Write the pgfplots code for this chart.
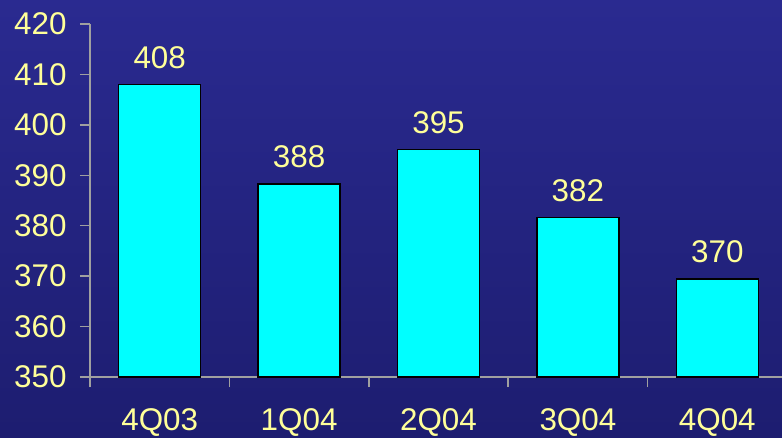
\documentclass[border=0pt]{standalone}
\usepackage{pgfplots}
\pgfplotsset{compat=1.18}
\usepackage{fontspec}
\setmainfont{Liberation Sans}
\definecolor{bgtop}{HTML}{2A2A90}
\definecolor{bgbot}{HTML}{1D1D70}
\definecolor{txt}{HTML}{FFFF99}
\definecolor{axgray}{HTML}{A0A0A0}
\definecolor{barcyan}{HTML}{00FFFF}
\begin{document}
\begin{tikzpicture}
\shade[top color=bgtop, bottom color=bgbot] (0,0) rectangle (782bp,438bp);
\begin{scope}
\clip (0,0) rectangle (782bp,438bp);
\begin{axis}[
  at={(90bp,61bp)}, anchor=south west,
  scale only axis, width=697bp, height=353bp,
  xmin=-0.5, xmax=4.5, ymin=350, ymax=420,
  axis x line*=bottom, axis y line*=left,
  axis line style={axgray, line width=1.5bp, -},
  xtick={0,...,4},
  xticklabels={4Q03,1Q04,2Q04,3Q04,4Q04},
  minor xtick={-0.5,0.5,1.5,2.5,3.5,4.5},
  ytick={350,360,...,420},
  tick align=outside,
  major tick length=10bp, minor tick length=10bp,
  x tick style={draw=none},
  minor x tick style={draw=axgray, line width=1.5bp},
  y tick style={draw=axgray, line width=1.5bp},
  font=\fontsize{31.5}{36}\selectfont,
  tick label style={text=txt, font=\fontsize{31.5}{36}\selectfont},
  xticklabel style={yshift=-18bp},
  yticklabel style={xshift=-10bp},
  /pgf/number format/assume math mode=true,
  ybar, bar width=82bp,
  point meta=explicit symbolic,
  nodes near coords,
  every node near coord/.append style={text=txt, font=\fontsize{31.5}{36}\selectfont, yshift=12bp},
  clip=false,
]
\addplot[fill=barcyan, draw=black, line width=1.5bp] coordinates {
  (0,408.0) [408]
  (1,388.3) [388]
  (2,395.1) [395]
  (3,381.6) [382]
  (4,369.4) [370]
};
\end{axis}
\end{scope}
\pgfresetboundingbox
\path (0,0) rectangle (782bp,438bp);
\end{tikzpicture}
\end{document}
